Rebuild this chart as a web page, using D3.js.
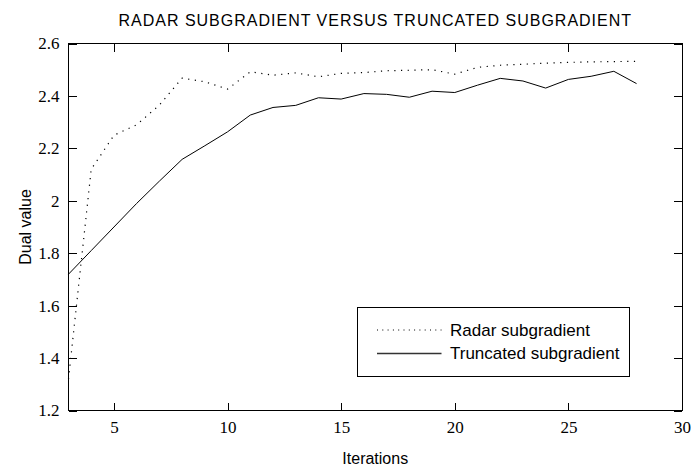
<!DOCTYPE html>
<meta charset="utf-8">
<style>

body {
  margin: 0;
  background: #fff;
}

.axis path {
  display: none;
}

.axis line {
  stroke: #000;
  shape-rendering: crispEdges;
}

.label, .legend text {
  font-family: "Liberation Sans", Arial, sans-serif;
  fill: #000;
}

</style>
<body>

<script src="https://d3js.org/d3.v7.min.js"></script>

<script>
var iterations = [3, 4, 5, 6, 7, 8, 9, 10, 11, 12, 13, 14, 15, 16, 17, 18, 19, 20, 21, 22, 23, 24, 25, 26, 27, 28];

var radar = [1.32, 2.12, 2.25, 2.29, 2.365, 2.468, 2.454, 2.426, 2.492, 2.479, 2.488, 2.473, 2.486, 2.489,
             2.496, 2.498, 2.5, 2.483, 2.509, 2.517, 2.521, 2.525, 2.528, 2.53, 2.531, 2.532];

var truncated = [1.72, 1.81, 1.90, 1.99, 2.075, 2.158, 2.21, 2.263, 2.327, 2.356, 2.364, 2.393, 2.388, 2.409,
                 2.406, 2.395, 2.418, 2.413, 2.441, 2.467, 2.457, 2.43, 2.463, 2.475, 2.494, 2.447];

var xTicks = [5, 10, 15, 20, 25, 30];
var yTicks = [1.2, 1.4, 1.6, 1.8, 2, 2.2, 2.4, 2.6];

var seriesNames = ['Radar subgradient', 'Truncated subgradient'];

var margin = {top: 43.5, right: 11, bottom: 56.5, left: 68.5},
    width = 693 - margin.left - margin.right,
    height = 467 - margin.top - margin.bottom;

var x = d3.scaleLinear()
    .domain([3, 30])
    .range([0, width]);

var y = d3.scaleLinear()
    .domain([1.2, 2.6])
    .range([height, 0]);

var svg = d3.select('body').append('svg')
    .attr('width', 693)
    .attr('height', 467)
  .append('g')
    .attr('transform', 'translate(' + margin.left + ',' + margin.top + ')');

// ticks point into the plot on all four sides
var xAxis = svg.append('g')
    .attr('class', 'x axis')
    .attr('transform', 'translate(0,' + height + ')')
    .call(d3.axisBottom(x).tickValues(xTicks).tickSizeInner(-8).tickSizeOuter(0).tickPadding(10));

svg.append('g')
    .attr('class', 'x axis')
    .call(d3.axisTop(x).tickValues(xTicks).tickSizeInner(-8).tickSizeOuter(0).tickFormat(''));

var yAxis = svg.append('g')
    .attr('class', 'y axis')
    .call(d3.axisLeft(y).tickValues(yTicks).tickSizeInner(-8).tickSizeOuter(0).tickPadding(9)
      .tickFormat(d3.format('~g')));

svg.append('g')
    .attr('class', 'y axis')
    .attr('transform', 'translate(' + width + ',0)')
    .call(d3.axisRight(y).tickValues(yTicks).tickSizeInner(-8).tickSizeOuter(0).tickFormat(''));

[xAxis, yAxis].forEach(function(g) {
  g.attr('font-family', '"Liberation Serif", "Times New Roman", serif')
   .attr('font-size', 17);
  g.selectAll('text').attr('fill', '#000');
});

svg.append('rect')
    .attr('width', width)
    .attr('height', height)
    .attr('fill', 'none')
    .attr('stroke', '#000')
    .attr('shape-rendering', 'crispEdges');

var line = d3.line()
    .x(function(d, i) { return x(iterations[i]); })
    .y(function(d) { return y(d); });

svg.append('path')
    .datum(radar)
    .attr('d', line)
    .attr('fill', 'none')
    .attr('stroke', '#000')
    .attr('stroke-width', 1.2)
    .attr('stroke-dasharray', '1.2,5.5');

svg.append('path')
    .datum(truncated)
    .attr('d', line)
    .attr('fill', 'none')
    .attr('stroke', '#000')
    .attr('stroke-width', 1);

svg.append('text')
    .attr('class', 'label')
    .attr('x', width / 2)
    .attr('y', -18)
    .attr('text-anchor', 'middle')
    .style('font-size', '16px')
    .style('letter-spacing', '1px')
    .text('RADAR SUBGRADIENT VERSUS TRUNCATED SUBGRADIENT');

svg.append('text')
    .attr('class', 'label')
    .attr('x', width / 2)
    .attr('y', height + 53)
    .attr('text-anchor', 'middle')
    .style('font-size', '16px')
    .text('Iterations');

svg.append('text')
    .attr('class', 'label')
    .attr('transform', 'translate(' + (31 - margin.left) + ',' + (height / 2) + ') rotate(-90)')
    .attr('text-anchor', 'middle')
    .style('font-size', '16px')
    .text('Dual value');

var legend = svg.append('g')
    .attr('class', 'legend')
    .attr('transform', 'translate(' + (357.5 - margin.left) + ',' + (307.5 - margin.top) + ')');

legend.append('rect')
    .attr('width', 272)
    .attr('height', 68.5)
    .attr('fill', '#fff')
    .attr('stroke', '#000')
    .attr('shape-rendering', 'crispEdges');

var rows = legend.selectAll('.row')
    .data(seriesNames)
  .enter().append('g')
    .attr('class', 'row')
    .attr('transform', function(d, i) { return 'translate(0,' + (22.5 + i * 23.5) + ')'; });

rows.append('line')
    .attr('x1', 19.5)
    .attr('x2', 84)
    .attr('stroke', function(d, i) { return i ? '#333' : '#000'; })
    .attr('stroke-width', function(d, i) { return i ? 1.3 : 1; })
    .attr('stroke-dasharray', function(d, i) { return i ? null : '1,4.3'; });

rows.append('text')
    .attr('x', 92.5)
    .attr('dy', '.35em')
    .style('font-size', '17px')
    .text(function(d) { return d; });

</script>
</body>
